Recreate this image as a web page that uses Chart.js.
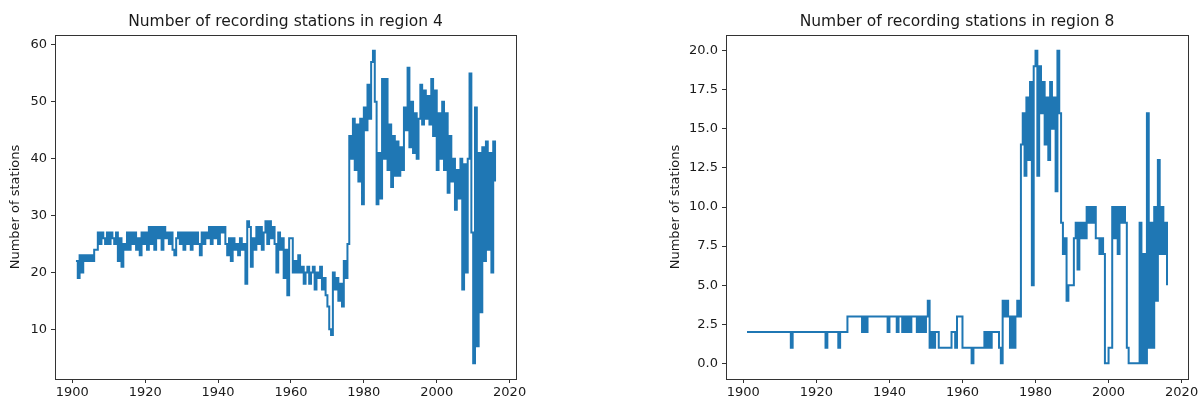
<!DOCTYPE html>
<html>
<head>
<meta charset="utf-8">
<script src="https://cdn.jsdelivr.net/npm/chart.js@4.4.0/dist/chart.umd.min.js"></script>
<style>
  body { margin: 0; background: #fff; }
  .box { position: absolute; top: 0; height: 403px; }
  #left { left: 0; width: 600px; }
  #right { left: 600px; width: 604px; }
</style>
</head>
<body>
<div class="box" id="left"><canvas id="chart4"></canvas></div>
<div class="box" id="right"><canvas id="chart8"></canvas></div>
<script>
// readings are every half year, starting 1901
const firstYear = 1901;
const yearStep = 0.5;

// region 4 - number of stations
const region4 = [
  22,19,23,20,23,22,23,22,23,22,
  24,24,27,25,27,26,25,27,25,27,
  26,25,27,22,26,21,25,24,27,24,
  27,25,27,24,26,23,27,25,27,24,
  28,25,28,24,28,26,28,24,28,26,
  27,25,27,24,23,26,27,25,27,24,
  27,25,27,24,27,25,27,25,23,27,
  25,27,26,28,25,28,26,28,25,28,
  27,28,25,23,26,22,26,24,25,23,
  26,24,25,18,29,28,21,26,24,28,
  25,28,24,27,29,25,29,26,28,25,
  20,27,24,26,19,24,16,26,26,20,
  22,20,23,20,21,18,20,21,18,20,
  21,17,20,19,21,17,19,16,14,10,
  9,20,17,19,15,18,14,22,19,25,
  44,40,47,38,46,36,47,32,49,45,
  53,47,57,59,50,32,41,33,54,40,
  54,38,46,35,44,37,43,37,42,38,
  49,45,56,42,50,41,48,40,47,53,
  46,52,47,51,46,54,44,52,38,48,
  40,50,38,48,34,44,36,40,31,38,
  33,40,17,39,20,40,55,27,4,49,
  7,41,13,42,22,43,24,41,20,43,
  36
];

// region 8 - number of stations
const region8 = [
  2,2,2,2,2,2,2,2,2,2,
  2,2,2,2,2,2,2,2,2,2,
  2,2,2,2,1,2,2,2,2,2,
  2,2,2,2,2,2,2,2,2,2,
  2,2,2,1,2,2,2,2,2,2,
  1,2,2,2,2,3,3,3,3,3,
  3,3,3,2,3,2,3,3,3,3,
  3,3,3,3,3,3,3,2,3,3,
  3,3,2,3,3,2,3,2,3,2,
  3,3,3,2,3,2,3,2,3,4,
  1,2,1,2,2,1,1,1,1,1,
  1,1,2,2,1,3,3,3,1,1,
  1,1,1,0,1,1,1,1,1,1,
  2,1,2,1,2,2,2,2,1,0,
  4,3,4,3,1,3,1,3,4,3,
  14,16,12,17,13,18,5,19,20,12,
  19,16,18,14,17,13,18,15,17,11,
  20,16,9,7,8,4,5,5,5,8,
  9,6,9,8,9,8,10,9,10,9,
  10,8,8,7,8,7,0,0,1,1,
  10,8,10,7,10,9,10,9,1,0,
  0,0,0,0,0,9,0,7,0,16,
  1,9,1,10,4,13,7,10,7,9,
  5
];

const xTicks = [1900, 1920, 1940, 1960, 1980, 2000, 2020];
const yTicks4 = [10, 20, 30, 40, 50, 60];
const yTicks8 = [0, 2.5, 5, 7.5, 10, 12.5, 15, 17.5, 20];

const font = 'DejaVu Sans';
const textColor = '#1a1a1a';

// draws the full axes box like matplotlib does
const frame = {
  id: 'frame',
  afterDatasetsDraw(chart) {
    const a = chart.chartArea;
    const ctx = chart.ctx;
    ctx.save();
    ctx.strokeStyle = '#333';
    ctx.lineWidth = 1;
    ctx.strokeRect(Math.round(a.left) + 0.5, Math.round(a.top) + 0.5,
      Math.round(a.right - a.left), Math.round(a.bottom - a.top));
    ctx.restore();
  }
};

function makeChart(id, values, title, yTicks, yMin, yMax, fmt, pad, yWidth, yTitlePad) {
  const points = values.map((v, i) => ({ x: firstYear + i * yearStep, y: v }));
  return new Chart(document.getElementById(id), {
    type: 'line',
    data: {
      datasets: [{
        data: points,
        borderColor: '#1f77b4',
        borderWidth: 2,
        pointRadius: 0,
        stepped: true,
        fill: false
      }]
    },
    options: {
      responsive: true,
      maintainAspectRatio: false,
      animation: false,
      layout: { padding: pad },
      plugins: {
        legend: { display: false },
        tooltip: { enabled: false },
        title: {
          display: true,
          text: title,
          fullSize: false,
          color: textColor,
          font: { family: font, size: 15.5, weight: 'normal' },
          padding: { top: 13, bottom: 3.4 }
        }
      },
      scales: {
        x: {
          type: 'linear',
          min: 1895.25,
          max: 2021.75,
          afterBuildTicks: s => { s.ticks = xTicks.map(v => ({ value: v })); },
          afterFit: s => { s.height = 24; },
          grid: { drawOnChartArea: false, drawTicks: true, tickLength: 4, color: '#333' },
          border: { display: true, color: '#333' },
          ticks: { color: textColor, padding: 2, maxRotation: 0,
            font: { family: font, size: 13 }, callback: v => String(v) }
        },
        y: {
          min: yMin,
          max: yMax,
          afterBuildTicks: s => { s.ticks = yTicks.map(v => ({ value: v })); },
          afterFit: s => { s.width = yWidth; },
          grid: { drawOnChartArea: false, drawTicks: true, tickLength: 4, color: '#333' },
          border: { display: true, color: '#333' },
          ticks: { color: textColor, padding: 4,
            font: { family: font, size: 13 }, callback: fmt },
          title: {
            display: true,
            text: 'Number of stations',
            color: textColor,
            font: { family: font, size: 13 },
            padding: { top: yTitlePad, bottom: 0 }
          }
        }
      }
    },
    plugins: [frame]
  });
}

makeChart('chart4', region4, 'Number of recording stations in region 4',
  yTicks4, 1.25, 61.75, v => String(v),
  { left: 0, right: 84, top: 0, bottom: 0 }, 55, 8);

makeChart('chart8', region8, 'Number of recording stations in region 8',
  yTicks8, -1, 21, v => v.toFixed(1),
  { left: 64, right: 16, top: 0, bottom: 0 }, 62, 3.5);
</script>
</body>
</html>
